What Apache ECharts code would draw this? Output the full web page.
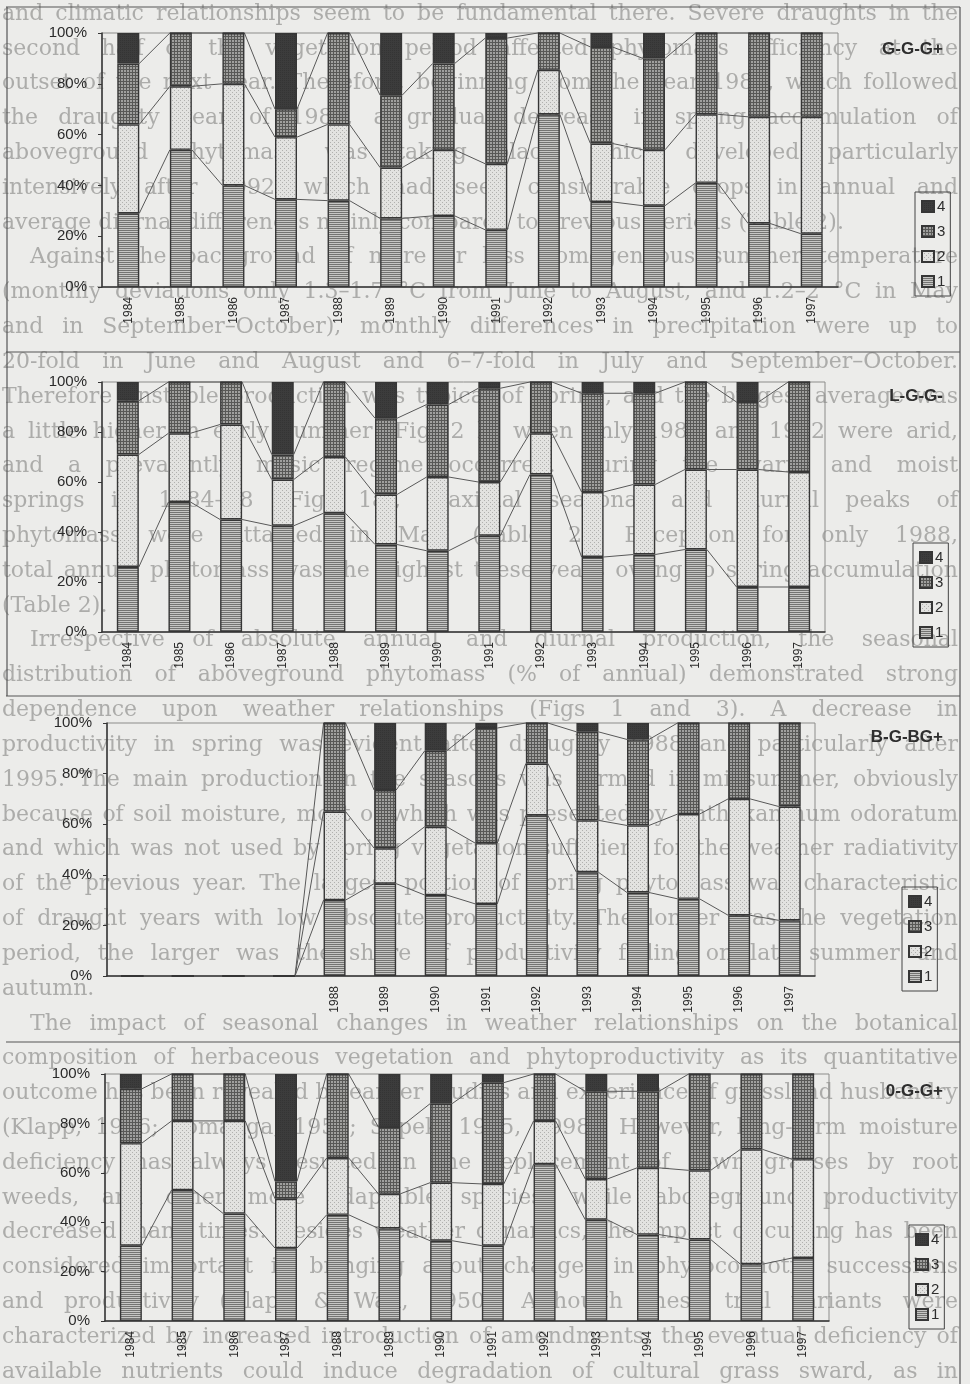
<!DOCTYPE html>
<html>
<head>
<meta charset="utf-8">
<script src="https://cdn.jsdelivr.net/npm/echarts@6/dist/echarts.min.js"></script>
<style>
  html, body { margin: 0; padding: 0; background: #ececea; }
  #wrap { position: relative; width: 970px; height: 1384px; }
  #paper, #chart { position: absolute; left: 0; top: 0; width: 970px; height: 1384px; }
</style>
</head>
<body>
<div id="wrap">
  <div id="paper"></div>
  <div id="chart"></div>
</div>
<script>
// Seasonal share (% of annual aboveground phytomass) per harvest period 1–4
const years = ['1984','1985','1986','1987','1988','1989','1990','1991','1992','1993','1994','1995','1996','1997'];
const yTicks = [0, 20, 40, 60, 80, 100];

// G-G-G+
const ggg1 = [29, 54, 40, 34.5, 34, 27, 28, 22.5, 68, 33.5, 32, 41, 25, 21];
const ggg2 = [35, 25, 40, 24.5, 30, 20, 26, 26, 17.5, 23, 22, 27, 42, 46];
const ggg3 = [24, 21, 20, 11, 36, 28.5, 34, 49.5, 14.5, 38, 36, 32, 33, 33];
const ggg4 = [12, 0, 0, 30, 0, 24.5, 12, 2, 0, 5.5, 10, 0, 0, 0];

// L-G-G-
const lgg1 = [26, 52, 45, 42.5, 47.5, 35, 32.5, 38.5, 63, 30, 31, 33, 18, 18];
const lgg2 = [45, 27.5, 38, 18.5, 22.5, 20, 29.5, 21.5, 16.5, 26, 28, 32, 47, 46];
const lgg3 = [21.5, 20.5, 17, 10, 30, 30.5, 29, 37.5, 20.5, 39.5, 36.5, 35, 27, 36];
const lgg4 = [7.5, 0, 0, 29, 0, 14.5, 9, 2.5, 0, 4.5, 4.5, 0, 8, 0];

// B-G-BG+ (no harvests before 1988)
const bgb1 = [0, 0, 0, 0, 30, 36.5, 32, 28.5, 63.5, 41, 33, 30.5, 24, 22];
const bgb2 = [0, 0, 0, 0, 35, 14, 27, 24, 20.5, 20.5, 26.5, 33.5, 46, 45];
const bgb3 = [0, 0, 0, 0, 35, 23, 30, 45.5, 16, 35, 34, 36, 30, 33];
const bgb4 = [0, 0, 0, 0, 0, 26.5, 11, 2, 0, 3.5, 6.5, 0, 0, 0];

// 0-G-G+
const ogg1 = [30.5, 53, 43.5, 29.5, 43, 37.5, 32.5, 30.5, 63.5, 41, 35, 33, 23, 25.5];
const ogg2 = [41.5, 28, 37.5, 20, 23, 14, 23.5, 25, 17.5, 16.5, 27, 28, 46.5, 40];
const ogg3 = [22, 19, 19, 7, 34, 27, 32, 41, 19, 35.5, 31, 39, 30.5, 34.5];
const ogg4 = [6, 0, 0, 43.5, 0, 21.5, 12, 3.5, 0, 7, 7, 0, 0, 0];

// Article text printed on the page beneath the figure
const pageText = [
  'and climatic relationships seem to be fundamental there. Severe draughts in the',
  'second half of the vegetation period affected phytomass efficiency at the',
  'outset of the next year. Therefore, beginning from the year 1989, which followed',
  'the draughty year of 1988, a gradual decrease in spring accumulation of',
  'aboveground phytomass was taking place, which developed particularly',
  'intensively after 1992, which had seen considerable drops in annual and',
  'average diurnal differences mainly compared to previous periods (Table 2).',
  'Against the background of more or less homogeneous summer temperature',
  '(monthly deviations only 1.3–1.7 °C from June to August, and 1.2–2 °C in May',
  'and in September–October), monthly differences in precipitation were up to',
  '20-fold in June and August and 6–7-fold in July and September–October.',
  'Therefore unstable production was typical of spring, and the biggest average was',
  'a little higher in early summer (Fig. 2 b) when only 1988 and 1992 were arid,',
  'and a prevalently mesic regime occurred. During the warm and moist',
  'springs in 1984–88 (Fig. 1a), maximal seasonal and diurnal peaks of',
  'phytomass were attained in May (Table 2). Exception for only 1988,',
  'total annual phytomass was the highest these years owing to spring accumulation',
  '(Table 2).',
  'Irrespective of absolute annual and diurnal production, the seasonal',
  'distribution of aboveground phytomass (% of annual) demonstrated strong',
  'dependence upon weather relationships (Figs 1 and 3). A decrease in',
  'productivity in spring was evident after draughty 1988 and particularly after',
  '1995. The main production in the seasons was formed in midsummer, obviously',
  'because of soil moisture, most of which was presented by Anthoxanthum odoratum',
  'and which was not used by spring vegetation sufficient for the weather radiativity',
  'of the previous year. The largest portion of spring phytomass was characteristic',
  'of draught years with low absolute productivity. The longer was the vegetation',
  'period, the larger was the share of productivity falling on late summer and',
  'autumn.',
  'The impact of seasonal changes in weather relationships on the botanical',
  'composition of herbaceous vegetation and phytoproductivity as its quantitative',
  'outcome has been revealed by earlier studies and experience of grassland husbandry',
  '(Klapp, 1956; Tomanga, 1958; Sapek, 1995, 1998). However, long-term moisture',
  'deficiency has always resulted in the replacement of sown grasses by root',
  'weeds, and other more adaptable species, while aboveground productivity',
  'decreased many times. Besides weather dynamics, the impact of cutting has been',
  'considered important in bringing about changes in phytocoenotic successions',
  'and productivity (Klapp & Wall, 1950). Although these trial variants were',
  'characterized by increased introduction of amendments, the eventual deficiency of',
  'available nutrients could induce degradation of cultural grass sward, as in'
];
const paragraphStarts = [7, 18, 29];
const paragraphEnds = [6, 17, 28];

const panels = [
  { name: 'G-G-G+',  parts: [ggg1, ggg2, ggg3, ggg4], grid: { left: 102, top: 33,   width: 736, height: 254 }, legend: { left: 915, top: 192 },  titleTop: 36 },
  { name: 'L-G-G-',  parts: [lgg1, lgg2, lgg3, lgg4], grid: { left: 102, top: 382,  width: 723, height: 250 }, legend: { left: 913, top: 543 },  titleTop: 383 },
  { name: 'B-G-BG+', parts: [bgb1, bgb2, bgb3, bgb4], grid: { left: 107, top: 723,  width: 708, height: 253 }, legend: { left: 902, top: 887 },  titleTop: 724 },
  { name: '0-G-G+',  parts: [ogg1, ogg2, ogg3, ogg4], grid: { left: 105, top: 1074, width: 724, height: 247 }, legend: { left: 909, top: 1225 }, titleTop: 1078 }
];

const FONT = "'Liberation Sans', Arial, sans-serif";
const SERIF = "'DejaVu Serif', 'Liberation Serif', serif";
const INK = '#363636';
const BAR_W = 22;

// Monochrome fill textures for the four periods
function texture(kind) {
  const c = document.createElement('canvas');
  const g = c.getContext('2d');
  if (kind === 1) {          // horizontal hatching
    c.width = 4; c.height = 2;
    g.fillStyle = '#c6c6c4'; g.fillRect(0, 0, 4, 2);
    g.fillStyle = '#747472'; g.fillRect(0, 0, 4, 1);
  } else if (kind === 2) {   // light stipple
    c.width = 4; c.height = 4;
    g.fillStyle = '#e2e2e0'; g.fillRect(0, 0, 4, 4);
    g.fillStyle = '#b0b0ae'; g.fillRect(0, 0, 1, 1); g.fillRect(2, 2, 1, 1);
  } else if (kind === 3) {   // dark grid
    c.width = 3; c.height = 3;
    g.fillStyle = '#a0a09e'; g.fillRect(0, 0, 3, 3);
    g.fillStyle = '#585856'; g.fillRect(0, 0, 3, 1); g.fillRect(0, 0, 1, 3);
  } else {                   // near-solid dark
    c.width = 2; c.height = 2;
    g.fillStyle = '#3c3c3c'; g.fillRect(0, 0, 2, 2);
    g.fillStyle = '#343434'; g.fillRect(0, 0, 1, 1);
  }
  return { image: c, repeat: 'repeat' };
}
const fills = [texture(1), texture(2), texture(3), texture(4)];

// Connectors between the cumulative boundaries of neighbouring columns
function connectors(parts) {
  return function (params, api) {
    const i = params.dataIndex;
    let a = 0, b = 0;
    const children = [];
    for (let k = 0; k < 3; k++) {
      a += parts[k][i];
      b += parts[k][i + 1];
      const p = api.coord([i, a]);
      const q = api.coord([i + 1, b]);
      children.push({
        type: 'line',
        shape: { x1: p[0] + BAR_W / 2, y1: p[1], x2: q[0] - BAR_W / 2, y2: q[1] },
        style: { stroke: '#585858', lineWidth: 1 }
      });
    }
    return { type: 'group', children };
  };
}

// Justified page text, laid out word by word
function pageTextElements() {
  const size = 22;
  const ctx = document.createElement('canvas').getContext('2d');
  ctx.font = size + 'px ' + SERIF;
  const spaceW = ctx.measureText(' ').width;
  const top = 14, bottom = 1372;
  const step = (bottom - top) / (pageText.length - 1);
  const els = [];
  pageText.forEach((line, k) => {
    const words = line.split(' ');
    const widths = words.map(w => ctx.measureText(w).width);
    const sum = widths.reduce((s, w) => s + w, 0);
    const x0 = 2 + (paragraphStarts.includes(k) ? 28 : 0);
    const x1 = 958;
    let gap = spaceW, scale = 1;
    if (!paragraphEnds.includes(k) && words.length > 1) {
      gap = (x1 - x0 - sum) / (words.length - 1);
      if (gap < spaceW * 0.7) {
        gap = spaceW * 0.7;
        scale = (x1 - x0 - gap * (words.length - 1)) / sum;
      }
    }
    let x = x0;
    const y = top + step * k;
    words.forEach((w, j) => {
      els.push({
        type: 'text', x: x, y: y, scaleX: scale, silent: true,
        style: { text: w, fontSize: size, fontFamily: SERIF, fill: '#acacaa', verticalAlign: 'middle', align: 'left' }
      });
      x += widths[j] * scale + gap;
    });
  });
  return els;
}

// Bottom layer: the printed page
const paper = echarts.init(document.getElementById('paper'), null, { renderer: 'canvas' });
paper.setOption({ backgroundColor: '#ececea', animation: false, graphic: pageTextElements() });

// Top layer: the four stacked-column panels
const option = {
  backgroundColor: 'transparent',
  animation: false,
  textStyle: { fontFamily: FONT },
  title: [], legend: [], grid: [], xAxis: [], yAxis: [], series: [],
  graphic: []
};

panels.forEach((p, gi) => {
  option.grid.push(Object.assign({ show: true, borderColor: '#8c8c8a', borderWidth: 1, backgroundColor: 'transparent' }, p.grid));
  option.title.push({
    text: p.name, right: 22, top: p.titleTop,
    textStyle: { fontFamily: FONT, fontSize: 17, fontWeight: 'bold', color: '#2e2e2e' }
  });
  option.legend.push({
    data: ['4', '3', '2', '1'], orient: 'vertical',
    left: p.legend.left, top: p.legend.top,
    itemWidth: 12, itemHeight: 11, itemGap: 10,
    padding: [7, 5, 7, 6],
    borderColor: '#444', borderWidth: 1,
    icon: 'rect', selectedMode: false,
    textStyle: { fontFamily: FONT, fontSize: 15, color: '#2e2e2e', padding: [0, 0, 0, -2] }
  });
  option.xAxis.push({
    type: 'category', gridIndex: gi, data: years,
    axisLine: { lineStyle: { color: INK, width: 1.5 } },
    axisTick: { show: false },
    axisLabel: {
      rotate: 90, margin: 10, fontSize: 12, color: '#2a2a2a', fontFamily: FONT,
      formatter: (v, idx) => (p.parts[0][idx] + p.parts[1][idx] + p.parts[2][idx] + p.parts[3][idx] > 0 ? v : '')
    }
  });
  option.yAxis.push({
    type: 'value', gridIndex: gi,
    min: yTicks[0], max: yTicks[yTicks.length - 1], interval: yTicks[1] - yTicks[0],
    axisLine: { show: true, lineStyle: { color: INK, width: 1.5 } },
    axisTick: { show: true, length: 4, lineStyle: { color: INK } },
    splitLine: { show: false },
    axisLabel: { formatter: '{value}%', fontSize: 15, color: '#2a2a2a', margin: 15, fontFamily: FONT }
  });
  p.parts.forEach((vals, k) => {
    option.series.push({
      name: String(k + 1), type: 'bar', stack: 'p' + gi,
      xAxisIndex: gi, yAxisIndex: gi, barWidth: BAR_W,
      data: vals,
      itemStyle: { color: fills[k], borderColor: INK, borderWidth: 1.4 },
      emphasis: { disabled: true }, z: 3
    });
  });
  option.series.push({
    type: 'custom', xAxisIndex: gi, yAxisIndex: gi, silent: true,
    renderItem: connectors(p.parts),
    data: years.slice(0, -1).map((y, i) => [i, 0]),
    encode: { x: 0, y: 1 }, z: 2
  });
});

// Panel frames
const frameStyle = { stroke: '#555', lineWidth: 1.2 };
[7, 352, 696, 1042].forEach(y => {
  option.graphic.push({ type: 'line', shape: { x1: 6, y1: y, x2: 960, y2: y }, style: frameStyle, silent: true });
});
option.graphic.push({ type: 'line', shape: { x1: 960, y1: 7, x2: 960, y2: 1384 }, style: frameStyle, silent: true });
option.graphic.push({ type: 'line', shape: { x1: 7, y1: 7, x2: 7, y2: 696 }, style: frameStyle, silent: true });

const chart = echarts.init(document.getElementById('chart'), null, { renderer: 'canvas' });
chart.setOption(option);
</script>
</body>
</html>
